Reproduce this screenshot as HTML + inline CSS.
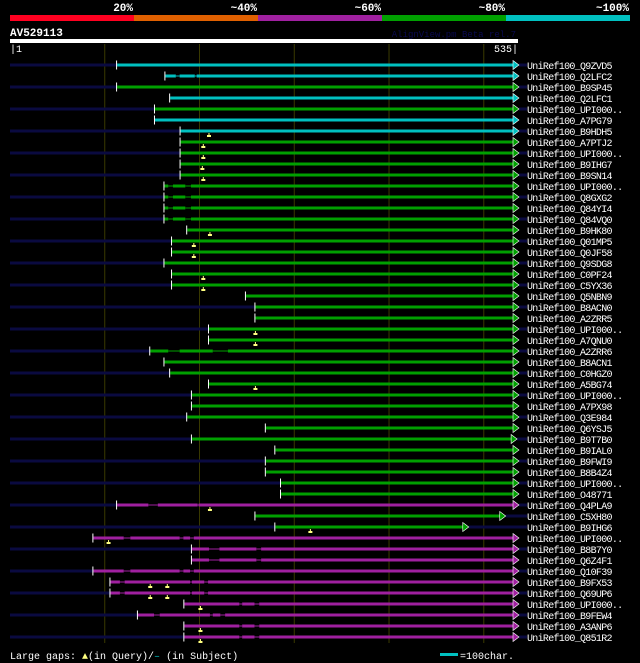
<!DOCTYPE html>
<html><head><meta charset="utf-8">
<style>
html,body{margin:0;padding:0;background:#000;}
svg{display:block;font-family:"Liberation Mono","DejaVu Sans Mono",monospace;}
</style></head>
<body>
<svg id="chart" width="640" height="663" viewBox="0 0 640 663" xmlns="http://www.w3.org/2000/svg">
  <g>
    <rect x="10" y="15" width="124" height="6" fill="#ff0020"/>
    <rect x="134" y="15" width="124" height="6" fill="#e06000"/>
    <rect x="258" y="15" width="124" height="6" fill="#a020a0"/>
    <rect x="382" y="15" width="124" height="6" fill="#00a000"/>
    <rect x="506" y="15" width="124" height="6" fill="#00c0c0"/>
    <g font-size="11" font-weight="bold" fill="#fff" text-anchor="end">
      <text x="133" y="11">20%</text>
      <text x="257" y="11">~40%</text>
      <text x="381" y="11">~60%</text>
      <text x="505" y="11">~80%</text>
      <text x="629" y="11">~100%</text>
    </g>
  </g>
  <text x="10" y="36" font-size="11" font-weight="bold" fill="#fff">AV529113</text>
  <text x="516" y="37" font-size="9" fill="#0a0a50" text-anchor="end">AlignView.pm Beta rel.7</text>
  <rect x="10" y="39" width="508" height="4" fill="#fff"/>
  <text x="10" y="52" font-size="10" fill="#fff">|1</text>
  <text x="518" y="52" font-size="10" fill="#fff" text-anchor="end">535|</text>
  <g id="grid"></g>
  <g id="rows"></g>
  <g>
    <text x="10" y="659" font-size="10" fill="#fff">Large gaps: <tspan fill="#ffff80">▲</tspan>(in Query)/<tspan fill="#00c0c0">–</tspan> (in Subject)</text>
    <rect x="440" y="653" width="18" height="3" fill="#00c0c0"/>
    <text x="460" y="659" font-size="10" fill="#fff">=100char.</text>
  </g>
</svg>
<script>
const labels = ["UniRef100_Q9ZVD5","UniRef100_Q2LFC2","UniRef100_B9SP45","UniRef100_Q2LFC1","UniRef100_UPI000..","UniRef100_A7PG79","UniRef100_B9HDH5","UniRef100_A7PTJ2","UniRef100_UPI000..","UniRef100_B9IHG7","UniRef100_B9SN14","UniRef100_UPI000..","UniRef100_Q8GXG2","UniRef100_Q84YI4","UniRef100_Q84VQ0","UniRef100_B9HK80","UniRef100_Q01MP5","UniRef100_Q0JF58","UniRef100_Q9SDG8","UniRef100_C0PF24","UniRef100_C5YX36","UniRef100_Q5NBN9","UniRef100_B8ACN0","UniRef100_A2ZRR5","UniRef100_UPI000..","UniRef100_A7QNU0","UniRef100_A2ZRR6","UniRef100_B8ACN1","UniRef100_C0HGZ0","UniRef100_A5BG74","UniRef100_UPI000..","UniRef100_A7PX98","UniRef100_Q3E984","UniRef100_Q6YSJ5","UniRef100_B9T7B0","UniRef100_B9IAL0","UniRef100_B9FWI9","UniRef100_B8B4Z4","UniRef100_UPI000..","UniRef100_O48771","UniRef100_Q4PLA9","UniRef100_C5XH80","UniRef100_B9IHG6","UniRef100_UPI000..","UniRef100_B8B7Y0","UniRef100_Q6Z4F1","UniRef100_Q10F39","UniRef100_B9FX53","UniRef100_Q69UP6","UniRef100_UPI000..","UniRef100_B9FEW4","UniRef100_A3ANP6","UniRef100_Q851R2"];
const starts = [114,165,114,170,154,154,181,181,181,181,181,164,164,164,164,188,172,172,164,172,172,250,260,260,211,211,149,164,170,211,193,193,188,271,193,281,271,271,287,287,114,260,281,89,193,193,89,107,107,185,136,185,185];
const ends = [535,535,535,535,535,535,535,535,535,535,535,535,535,535,535,535,535,535,535,535,535,535,535,535,535,535,535,535,535,535,535,535,535,535,533,535,535,535,535,535,535,521,482,535,535,535,535,535,535,535,535,535,535];
const colorClass = ["c","c","g","c","g","c","c","g","g","g","g","g","g","g","g","g","g","g","g","g","g","g","g","g","g","g","g","g","g","g","g","g","g","g","g","g","g","g","g","g","p","g","g","p","p","p","p","p","p","p","p","p","p"];
const gaps = [[1,176,180],[1,196,198],[40,147,157],[40,199,200],[43,121,128],[43,180,184],[43,191,195],[46,121,128],[46,180,184],[46,191,195],[44,211,222],[44,261,266],[45,211,222],[45,261,266],[47,117,122],[47,191,193],[47,206,210],[48,117,122],[48,191,193],[48,206,210],[49,243,246],[49,259,264],[51,243,246],[51,259,264],[52,243,246],[52,259,264],[50,153,159],[50,212,215],[50,223,228],[11,168,173],[11,186,192],[12,168,173],[12,186,192],[13,168,173],[13,186,192],[14,168,173],[14,186,192],[26,168,180],[26,215,231]];
const markers = [[6,211],[7,205],[8,205],[9,204],[10,205],[15,212],[16,195],[17,195],[19,205],[20,205],[24,260],[25,260],[29,260],[40,212],[42,318],[43,105],[47,149],[47,167],[48,149],[48,167],[49,202],[51,202],[52,202]];
const gridTicks = [101,201,301,401,501];

const palette = {c:"#00c0c0", g:"#00a000", p:"#a020a0"};
const NS = "http://www.w3.org/2000/svg";
const xScale = q => 10 + (q - 1) * (506 / 534);
const yRow = i => 65 + 11 * i;
function mk(tag, attrs, parent){ const e=document.createElementNS(NS,tag); for(const k in attrs) e.setAttribute(k,attrs[k]); parent.appendChild(e); return e; }

const grid = document.getElementById('grid');
gridTicks.forEach(t=>{
  const l = mk('line',{x1:xScale(t),x2:xScale(t),y1:44,y2:643,stroke:"#3a3a00","stroke-width":1},grid);
  
  
});

const rows = document.getElementById('rows');
labels.forEach((lab,i)=>{
  const y = yRow(i);
  const g = mk('g',{},rows);
  
  
  const col = palette[colorClass[i]];
  const x0 = xScale(starts[i]), x1 = xScale(ends[i]) - 3;
  if(i % 2 === 0){
    const n = mk('rect',{x:10,y:y-1.5,width:x0-10,height:3,fill:"#0a0a40"},g);
    
    
  }
  if(ends[i] < 530 || i % 2 === 0){
    const n2 = mk('rect',{x:x1+6,y:y-1.5,width:Math.max(0,527-x1-6),height:3,fill:"#0a0a40"},g);
    
    
  }
  const rg = gaps.filter(gp=>gp[0]===i).sort((a,b)=>a[1]-b[1]);
  let cur = x0;
  rg.forEach(gp=>{
    const gs = xScale(gp[1]), ge = xScale(gp[2]);
    const s = mk('rect',{x:cur,y:y-1.5,width:Math.max(0,gs-cur),height:3,fill:col},g);
    
    
    const gl = mk('rect',{x:gs,y:y-0.5,width:ge-gs,height:1,fill:col},g);
    
    
    cur = ge;
  });
  const s = mk('rect',{x:cur,y:y-1.5,width:Math.max(0,x1-cur),height:3,fill:col},g);
  
  
  const st = mk('rect',{x:x0-1,y:y-4.5,width:1,height:9,fill:"#fff"},g);
  
  
  const ar = mk('polygon',{points:`${x1},${y-4.5} ${x1+6},${y} ${x1},${y+4.5}`,fill:col,stroke:"#fff","stroke-width":0.6},g);
  
  
  const t = mk('text',{x:527,y:y+4,"font-size":"10","letter-spacing":"-0.7",fill:"#fff"},g);
  t.textContent = lab;
  
  
});
markers.forEach(m=>{
  const x = xScale(m[1]), y = yRow(m[0]);
  const p = mk('polygon',{points:`${x-0.5},${y+2} ${x+0.5},${y+2} ${x+0.5},${y+4} ${x+2},${y+4} ${x+2},${y+6} ${x-2},${y+6} ${x-2},${y+4} ${x-0.5},${y+4}`,fill:"#ffff80"},rows);
  
  
});
</script>
</body></html>
